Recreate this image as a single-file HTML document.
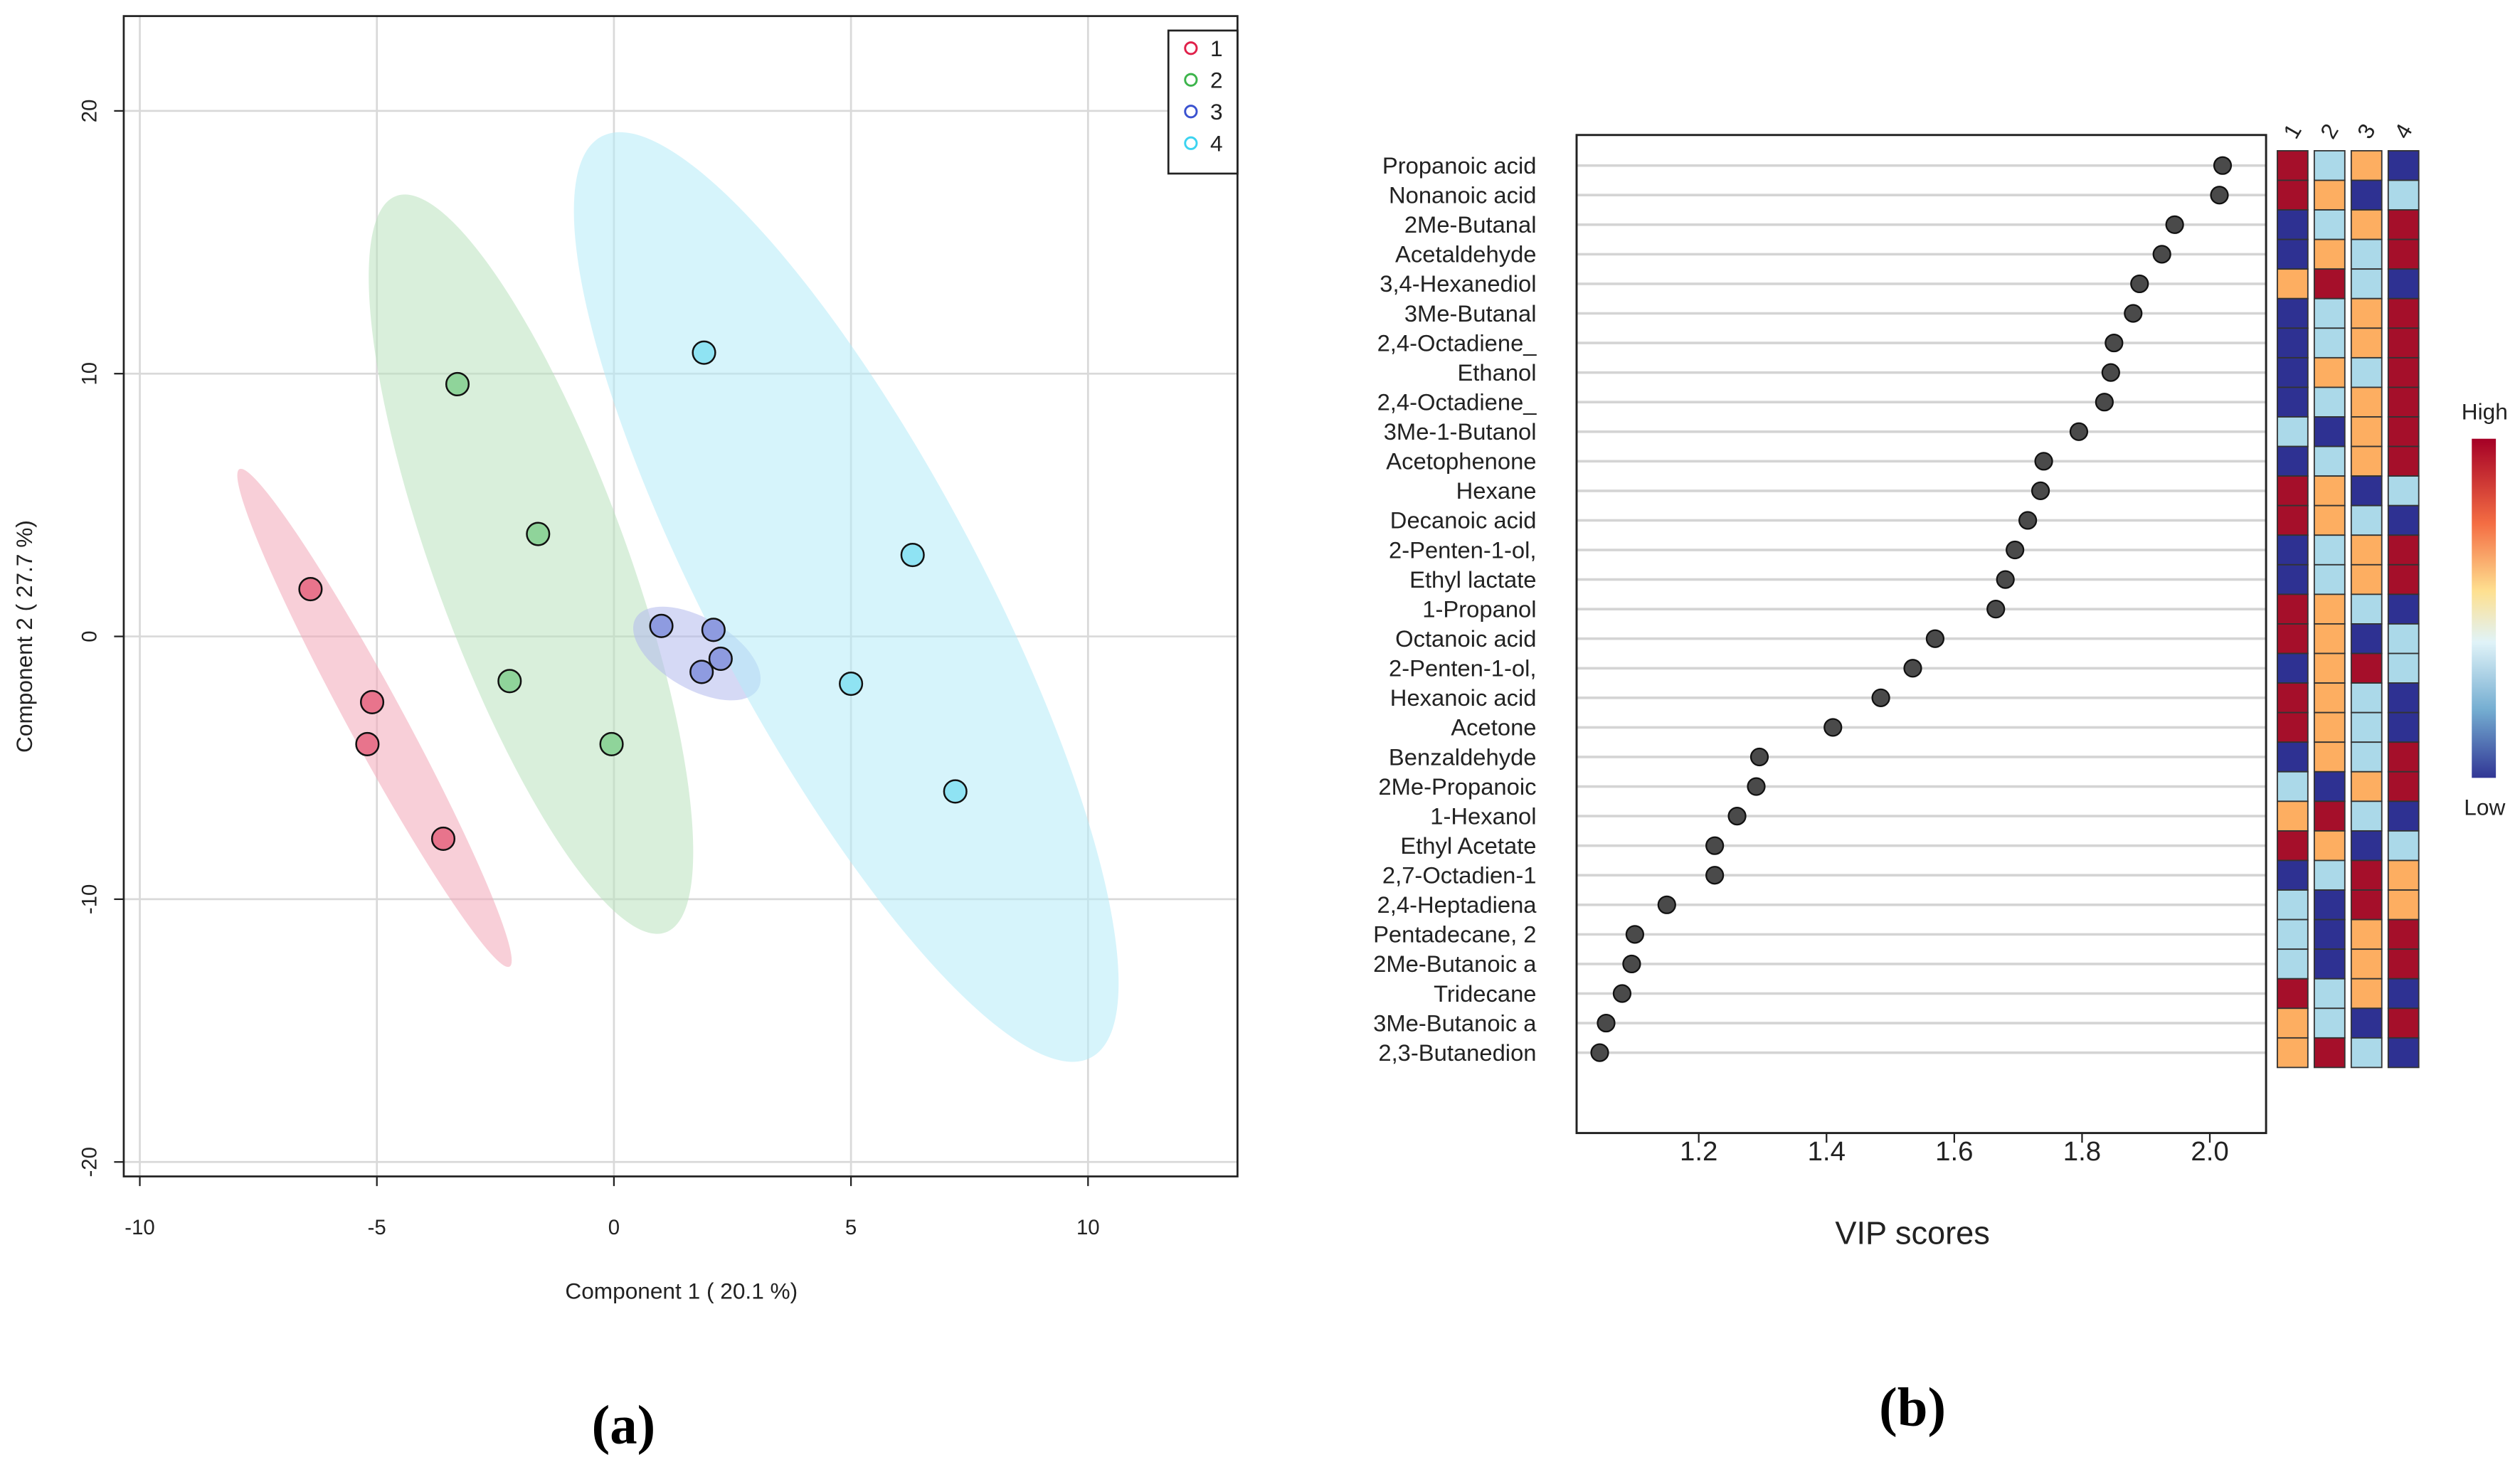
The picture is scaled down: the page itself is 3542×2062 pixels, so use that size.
<!DOCTYPE html>
<html><head><meta charset="utf-8">
<style>
html,body{margin:0;padding:0;background:#fff;}
svg{display:block;}
text{font-family:"Liberation Sans",sans-serif;}
</style></head>
<body>
<svg id="fig" width="3542" height="2062" viewBox="0 0 1568 912.8" preserveAspectRatio="none" xmlns="http://www.w3.org/2000/svg">
<g id="pa"></g>
<g id="pb"></g>
<text x="388" y="898" text-anchor="middle" style="font-family:'Liberation Serif',serif;font-weight:bold;font-size:34px">(a)</text>
<text x="1190" y="887" text-anchor="middle" style="font-family:'Liberation Serif',serif;font-weight:bold;font-size:34px">(b)</text>
</svg>
<script>
// ---- Panel A data ----
const groups = ["1","2","3","4"];
const groupColors = ["#e8748c","#8fd49a","#8e9be0","#8fe3f3"];
const legendColors = ["#e0204a","#3cb44b","#3a52d0","#3cd3f0"];
const ellipseColors = ["#f2a7b8","#b9e2bd","#b3b9ec","#b5ebf7"];
const xTicks = [-10,-5,0,5,10];
const yTicks = [20,10,0,-10,-20];
const g1x=[-6.4,-5.1,-5.2,-3.6], g1y=[1.8,-2.5,-4.1,-7.7];
const g2x=[-3.3,-1.6,-2.2,-0.05], g2y=[9.6,3.9,-1.7,-4.1];
const g3x=[1.0,2.1,2.25,1.85], g3y=[0.4,0.25,-0.85,-1.35];
const g4x=[1.9,6.3,5.0,7.2], g4y=[10.8,3.1,-1.8,-5.9];
const ellCx=[-5.05,-1.75,1.75,4.9], ellCy=[-3.1,2.75,-0.65,1.5];
const ellRx=[5.97,8.27,1.49,11.0], ellRy=[0.58,2.03,0.75,2.85], ellAng=[61.5,69.9,30,62];

// ---- Panel B data ----
const compounds=["Propanoic acid","Nonanoic acid","2Me-Butanal","Acetaldehyde","3,4-Hexanediol","3Me-Butanal","2,4-Octadiene_","Ethanol","2,4-Octadiene_","3Me-1-Butanol","Acetophenone","Hexane","Decanoic acid","2-Penten-1-ol,","Ethyl lactate","1-Propanol","Octanoic acid","2-Penten-1-ol,","Hexanoic acid","Acetone","Benzaldehyde","2Me-Propanoic ","1-Hexanol","Ethyl Acetate","2,7-Octadien-1","2,4-Heptadiena","Pentadecane, 2","2Me-Butanoic a","Tridecane","3Me-Butanoic a","2,3-Butanedion"];
const vip=[2.02,2.015,1.945,1.925,1.89,1.88,1.85,1.845,1.835,1.795,1.74,1.735,1.715,1.695,1.68,1.665,1.57,1.535,1.485,1.41,1.295,1.29,1.26,1.225,1.225,1.15,1.1,1.095,1.08,1.055,1.045];
const heat=["RLOB","ROBL","BLOR","BOLR","ORLB","BLOR","BLOR","BOLR","BLOR","LBOR","BLOR","ROBL","ROLB","BLOR","BLOR","ROLB","ROBL","BORL","ROLB","ROLB","BOLR","LBOR","ORLB","ROBL","BLRO","LBRO","LBOR","LBOR","RLOB","OLBR","ORLB"];
const vipTicks=[1.2,1.4,1.6,1.8,2.0];
const heatCols=["1","2","3","4"];
const heatPalette={R:"#a50f2a",O:"#fdae61",L:"#abd9e9",B:"#2e3192"};

const NS="http://www.w3.org/2000/svg";
function mk(parent,tag,attrs,txt){const e=document.createElementNS(NS,tag);for(const k in attrs)e.setAttribute(k,attrs[k]);if(txt!==undefined)e.textContent=txt;parent.appendChild(e);return e;}

// ---------- Panel A ----------
const pa=document.getElementById('pa');
const ax=v=>382+v*29.5, ay=v=>396-v*16.35;
const L=77,R=770,T=10,B=732;
xTicks.forEach(t=>{const l=mk(pa,'line',{x1:ax(t),x2:ax(t),y1:T,y2:B,stroke:'#d9d9d9','stroke-width':1.2});
});
yTicks.forEach(t=>{const l=mk(pa,'line',{x1:L,x2:R,y1:ay(t),y2:ay(t),stroke:'#d9d9d9','stroke-width':1.2});
});
for(let i=0;i<4;i++){
  const cx=ax(ellCx[i]),cy=ay(ellCy[i]);
  const e=mk(pa,'ellipse',{cx:cx,cy:cy,rx:ellRx[i]*29.5,ry:ellRy[i]*29.5,fill:ellipseColors[i],'fill-opacity':0.55,transform:`rotate(${ellAng[i]} ${cx} ${cy})`});
  
  
}
const gx=[g1x,g2x,g3x,g4x], gy=[g1y,g2y,g3y,g4y];
for(let i=0;i<4;i++){for(let j=0;j<gx[i].length;j++){
  const c=mk(pa,'circle',{cx:ax(gx[i][j]),cy:ay(gy[i][j]),r:7,fill:groupColors[i],stroke:'#111','stroke-width':1.1});
  
  
}}
const box=mk(pa,'rect',{x:L,y:T,width:R-L,height:B-T,fill:'none',stroke:'#222','stroke-width':1.2});

xTicks.forEach(t=>{mk(pa,'line',{x1:ax(t),x2:ax(t),y1:B,y2:B+6,stroke:'#222'});
const tx=mk(pa,'text',{x:ax(t),y:768,'text-anchor':'middle','font-size':13,fill:'#222'},String(t));
});
yTicks.forEach(t=>{mk(pa,'line',{x1:L-6,x2:L,y1:ay(t),y2:ay(t),stroke:'#222'});
const tx=mk(pa,'text',{x:60,y:ay(t),'text-anchor':'middle','font-size':13,fill:'#222',transform:`rotate(-90 60 ${ay(t)})`},String(t));
});
let t1=mk(pa,'text',{x:424,y:808,'text-anchor':'middle','font-size':14,fill:'#222'},'Component 1 ( 20.1 %)');

let t2=mk(pa,'text',{x:20,y:396,'text-anchor':'middle','font-size':14,fill:'#222',transform:'rotate(-90 20 396)'},'Component 2 ( 27.7 %)');

const lg=mk(pa,'g',{});
mk(lg,'rect',{x:727,y:19,width:43,height:89,fill:'#fff',stroke:'#222','stroke-width':1.2});
groups.forEach((g,i)=>{const y=30+i*19.7;
const c=mk(lg,'circle',{cx:741,cy:y,r:3.6,fill:'none',stroke:legendColors[i],'stroke-width':1.3});

const t=mk(lg,'text',{x:753,y:y+5,'font-size':14,fill:'#222'},g);
});

// ---------- Panel B ----------
const pb=document.getElementById('pb');
const bx=v=>1057+(v-1.2)*397.5;
const rowY=i=>103+i*18.4;
const BL=981,BR=1410,BT=84,BB=705;
compounds.forEach((c,i)=>{
  const l=mk(pb,'line',{x1:BL,x2:BR,y1:rowY(i),y2:rowY(i),stroke:'#d4d4d4','stroke-width':1.6});
  
  const t=mk(pb,'text',{x:956,y:rowY(i)+5,'text-anchor':'end','font-size':14.5,fill:'#222'},c);
  
});
vip.forEach((v,i)=>{const c=mk(pb,'circle',{cx:bx(v),cy:rowY(i),r:5.3,fill:'#4a4a4a',stroke:'#111','stroke-width':1});
});
const fr=mk(pb,'rect',{x:BL,y:BT,width:BR-BL,height:BB-BT,fill:'none',stroke:'#222','stroke-width':1.3});

vipTicks.forEach(t=>{mk(pb,'line',{x1:bx(t),x2:bx(t),y1:BB,y2:BB+6,stroke:'#222'});
const tx=mk(pb,'text',{x:bx(t),y:722,'text-anchor':'middle','font-size':17,fill:'#222'},t.toFixed(1));
});
let vt=mk(pb,'text',{x:1190,y:774,'text-anchor':'middle','font-size':20,fill:'#222'},'VIP scores');

const colX=[1417,1440,1463,1486], cw=19;
heatCols.forEach((h,j)=>{
  const t=mk(pb,'text',{x:colX[j]+cw/2+4,y:84,'text-anchor':'middle','font-size':14,fill:'#222',transform:`rotate(-60 ${colX[j]+cw/2+4} 84)`},h);
  
  heat.forEach((row,i)=>{const r=mk(pb,'rect',{x:colX[j],y:rowY(i)-9.2,width:cw,height:18.4,fill:heatPalette[row[j]],stroke:'#333','stroke-width':0.8});
  });
});
const defs=mk(pb,'defs',{});
const grad=mk(defs,'linearGradient',{id:'cb',x1:0,y1:0,x2:0,y2:1});
[["0","#a50026"],["0.25","#f46d43"],["0.45","#fee090"],["0.6","#e0f3f8"],["0.8","#74add1"],["1","#313695"]].forEach(s=>mk(grad,'stop',{offset:s[0],'stop-color':s[1]}));
const cb=mk(pb,'rect',{x:1538,y:273,width:15,height:211,fill:'url(#cb)'});

let hi=mk(pb,'text',{x:1546,y:261,'text-anchor':'middle','font-size':14,fill:'#222'},'High');

let lo=mk(pb,'text',{x:1546,y:507,'text-anchor':'middle','font-size':14,fill:'#222'},'Low');

</script>
</body></html>
